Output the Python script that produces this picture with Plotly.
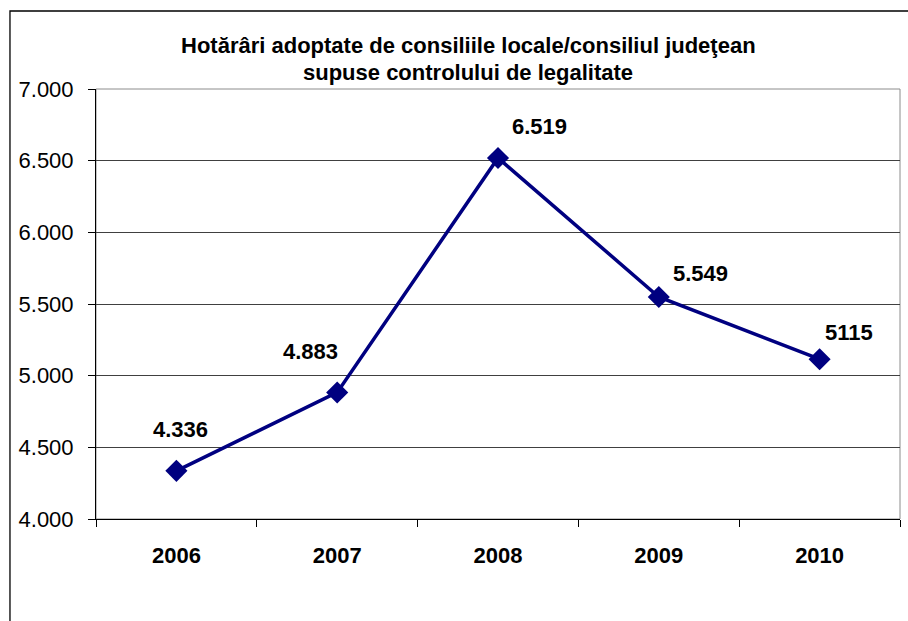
import plotly.graph_objects as go

# Data
YEARS = ["2006", "2007", "2008", "2009", "2010"]
HOTARARI = [4336, 4883, 6519, 5549, 5115]
LABELS = ["4.336", "4.883", "6.519", "5.549", "5115"]
Y_TICKS = [4000, 4500, 5000, 5500, 6000, 6500, 7000]

TITLE_1 = "Hotărâri adoptate de consiliile locale/consiliul judeţean"
TITLE_2 = "supuse controlului de legalitate"

# label offsets (px) relative to each marker, as placed in the original
LABEL_SHIFTS = [(4, 41), (-27, 41), (41, 31), (42, 23), (29, 27)]

FONT = "Arial, Liberation Sans, sans-serif"
NAVY = "#000080"

fig = go.Figure(go.Scatter(
    x=YEARS, y=HOTARARI, mode="lines+markers",
    line=dict(color=NAVY, width=3.5),
    marker=dict(symbol="diamond", size=17, color=NAVY),
    hoverinfo="skip", showlegend=False,
))

# category axis: annotations placed by category index
for i, (val, txt, (dx, dy)) in enumerate(zip(HOTARARI, LABELS, LABEL_SHIFTS)):
    fig.add_annotation(
        x=i, y=val, text=f"<b>{txt}</b>", showarrow=False,
        xshift=dx, yshift=dy, font=dict(family=FONT, size=22, color="black"),
    )

# two-line title, placed as separate lines to match spacing
for txt, ty in [(TITLE_1, 1.1023), (TITLE_2, 1.0395)]:
    fig.add_annotation(x=0.4627, y=ty, xref="paper", yref="paper", showarrow=False,
                       xanchor="center", yanchor="middle",
                       text=f"<b>{txt}</b>", font=dict(family=FONT, size=22, color="black"))

# plot area border (gray) and chart area border (black, cut by the image edge)
fig.add_shape(type="rect", xref="paper", yref="paper", x0=0, x1=1, y0=0, y1=1,
              line=dict(color="#8c8c8c", width=1), layer="below")
fig.add_shape(type="rect", xref="paper", yref="paper", x0=-0.107, x1=1.2, y0=-0.5, y1=1.1814,
              line=dict(color="black", width=1.3), layer="below")

fig.update_xaxes(
    type="category", range=[-0.5, 4.5],
    showline=True, linecolor="black", linewidth=1,
    ticks="outside", tickson="boundaries", ticklen=7, tickcolor="black",
    tickfont=dict(family=FONT, size=22, color="black"),
    ticklabelstandoff=17, showgrid=False,
    tickprefix="<b>", ticksuffix="</b>",
)
fig.update_yaxes(
    range=[4000, 7000], tickvals=Y_TICKS, tickformat=",d",
    showline=True, linecolor="black", linewidth=1,
    ticks="outside", ticklen=7, tickcolor="black",
    tickfont=dict(family=FONT, size=22, color="black"),
    ticklabelstandoff=10,
    showgrid=True, gridcolor="#404040", gridwidth=1, zeroline=False,
)

fig.update_layout(
    width=908, height=621,
    margin=dict(l=96, r=8, t=89, b=102),
    separators=",.",
    paper_bgcolor="white", plot_bgcolor="white",
    font=dict(family=FONT, color="black"),
)

fig.write_html("out.html", config={"displayModeBar": False},
               post_script="document.body.style.margin='0';")
